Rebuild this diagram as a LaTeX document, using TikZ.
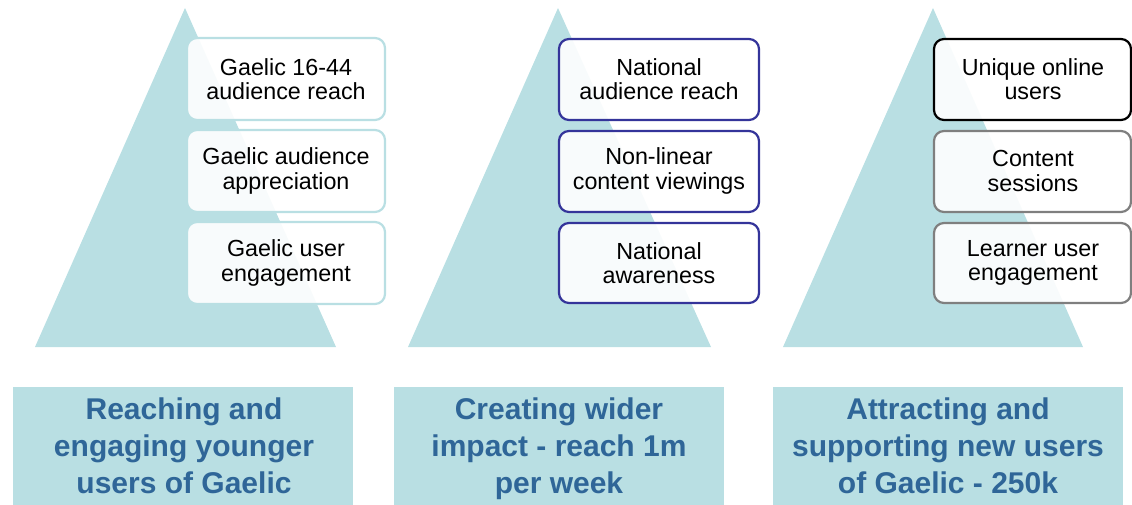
\documentclass[tikz,border=0pt]{standalone}
\usepackage{fontspec}
\setmainfont{Liberation Sans}
\begin{document}
\definecolor{teal}{HTML}{B9DFE3}
\definecolor{headblue}{HTML}{2F6698}
\definecolor{navy}{HTML}{34349A}
\definecolor{midgray}{HTML}{7F7F7F}
\begin{tikzpicture}[x=1pt,y=-1pt,
  pyramid/.style={fill=teal,draw=none},
  kpi/.style={rounded corners=10pt,fill=white,fill opacity=0.9,text opacity=1,line width=2.2pt},
  kpitext/.style={align=center,font=\fontsize{23.3}{24.5}\selectfont,text=black,inner sep=0pt},
  goal/.style={fill=teal,draw=none},
  goaltext/.style={align=center,font=\fontsize{30}{37}\selectfont\bfseries,text=headblue,inner sep=0pt,anchor=north}]
\useasboundingbox (0,0) rectangle (1132,504);
\clip (0,0) rectangle (1132,504);

% pyramids
\path[pyramid] (185,8) -- (336,347) -- (35,347) -- cycle;
\path[pyramid] (558,8) -- (711,347) -- (408,347) -- cycle;
\path[pyramid] (933,8) -- (1083,347) -- (783,347) -- cycle;

% measure boxes, column 1
\draw[kpi,draw=teal] (187,38) rectangle (385,120);
\draw[kpi,draw=teal] (187,130) rectangle (385,212);
\draw[kpi,draw=teal] (187,222) rectangle (385,304);
\node[kpitext] (a1) at (286,79) {Gaelic 16-44\\audience reach};
\node[kpitext] (a2) at (286,171) {Gaelic audience\\appreciation};
\node[kpitext] (a3) at (286,263) {Gaelic user\\engagement};

% measure boxes, column 2
\draw[kpi,draw=navy] (559,39) rectangle (759,120);
\draw[kpi,draw=navy] (559,131) rectangle (759,212);
\draw[kpi,draw=navy] (559,223) rectangle (759,303);
\node[kpitext] (b1) at (659,79) {National\\audience reach};
\node[kpitext] (b2) at (659,171) {Non-linear\\content viewings};
\node[kpitext] (b3) at (659,263) {National\\awareness};

% measure boxes, column 3
\draw[kpi,draw=black] (934,39) rectangle (1131,120);
\draw[kpi,draw=midgray] (934,131) rectangle (1131,212);
\draw[kpi,draw=midgray] (934,223) rectangle (1131,303);
\node[kpitext] (c1) at (1033,79) {Unique online\\users};
\node[kpitext] (c2) at (1033,171) {Content\\sessions};
\node[kpitext] (c3) at (1033,263) {Learner user\\engagement};

% goal banners
\path[goal] (13,387) rectangle (353,520);
\path[goal] (394,387) rectangle (724,520);
\path[goal] (773,387) rectangle (1123,520);
\node[goaltext] (g1) at (184,398) {Reaching and\\engaging younger\\users of Gaelic};
\node[goaltext] (g2) at (559,398) {Creating wider\\impact - reach 1m\\per week};
\node[goaltext] (g3) at (948,398) {Attracting and\\supporting new users\\of Gaelic - 250k};
\end{tikzpicture}
\end{document}
